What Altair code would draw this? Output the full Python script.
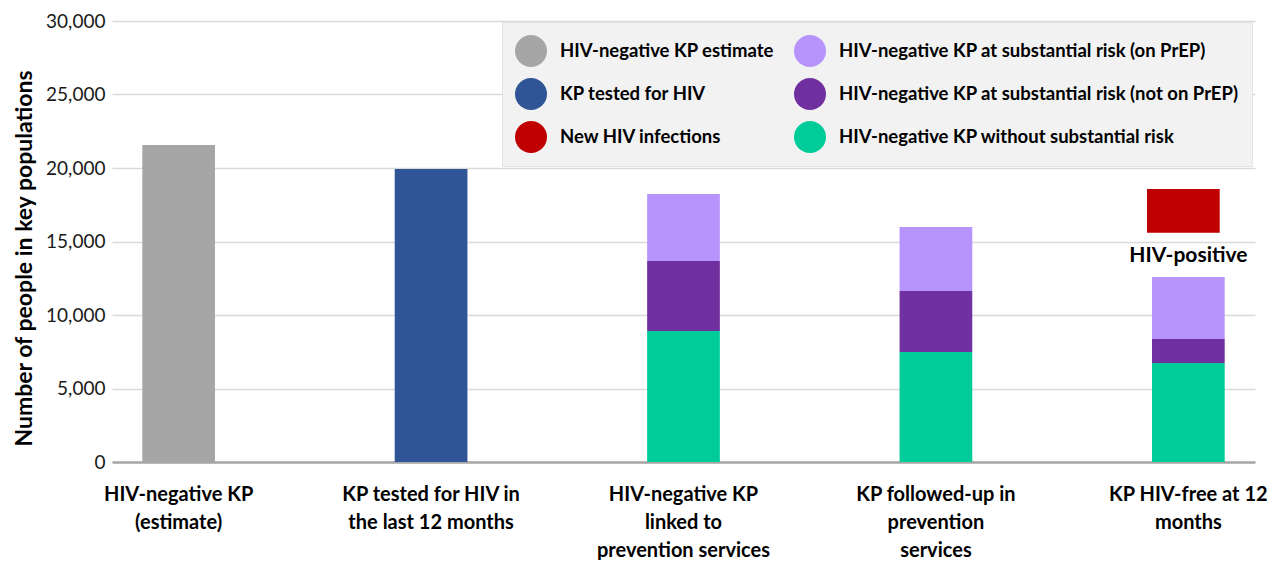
import altair as alt
import pandas as pd

categories = [
    "HIV-negative KP|(estimate)",
    "KP tested for HIV in|the last 12 months",
    "HIV-negative KP|linked to|prevention services",
    "KP followed-up in|prevention|services",
    "KP HIV-free at 12|months",
]

# legend fills column by column
series = [
    "HIV-negative KP estimate",
    "KP tested for HIV",
    "New HIV infections",
    "HIV-negative KP at substantial risk (on PrEP)",
    "HIV-negative KP at substantial risk (not on PrEP)",
    "HIV-negative KP without substantial risk",
]
colors = ["#a6a6a6", "#2f5597", "#c00000", "#b794fc", "#7030a0", "#00cc99"]

hiv_neg_estimate = 21560
kp_tested = 19930
# stacked cascade bars (categories 3-5)
without_risk = [8910, 7480, 6730]
risk_not_prep = [4760, 4150, 1640]
risk_on_prep = [4560, 4360, 4220]
# floating new infections bar on last category
new_inf_low = 15600
new_inf_high = 18570
hiv_positive_label_y = 14000

rows = [
    dict(cat=categories[0], series=series[0], y=0, y2=hiv_neg_estimate),
    dict(cat=categories[1], series=series[1], y=0, y2=kp_tested),
]
for i in range(3):
    c = categories[2 + i]
    a = without_risk[i]
    b = a + risk_not_prep[i]
    t = b + risk_on_prep[i]
    rows.append(dict(cat=c, series=series[5], y=0, y2=a))
    rows.append(dict(cat=c, series=series[4], y=a, y2=b))
    rows.append(dict(cat=c, series=series[3], y=b, y2=t))
df = pd.DataFrame(rows)
red_df = pd.DataFrame([dict(cat=categories[4], series=series[2], y=new_inf_low, y2=new_inf_high)])
txt_df = pd.DataFrame([dict(cat=categories[4], y=hiv_positive_label_y, label="HIV-positive")])

FONT = "Lato"

xscale = alt.Scale(domain=categories, paddingInner=0.712, paddingOuter=0.12)
yscale = alt.Scale(domain=[0, 30000], nice=False)
cscale = alt.Scale(domain=series, range=colors)

xaxis = alt.Axis(
    title=None, labelAngle=0, ticks=False, grid=False,
    domainColor="#a6a6a6", domainWidth=2.5,
    labelFont=FONT, labelFontSize=20, labelFontWeight="bold", labelColor="#000000",
    labelLineHeight=28, labelPadding=22, labelLimit=400, labelOverlap=False,
    labelExpr="split(datum.label, '|')",
)
yaxis = alt.Axis(
    title="Number of people in key populations", values=[0, 5000, 10000, 15000, 20000, 25000, 30000],
    format=",.0f", ticks=False, domain=False, gridColor="#d9d9d9", gridWidth=1.5,
    labelFont=FONT, labelFontSize=19, labelColor="#1a1a1a", labelPadding=7,
    titleFont=FONT, titleFontSize=23, titleFontWeight="bold", titleColor="#000000",
    titleAngle=270, titleX=-88, titleY=237, titleAlign="center", titleBaseline="middle",
)

legend = alt.Legend(
    title=None, orient="none", legendX=390, legendY=1, columns=2,
    symbolType="circle", symbolSize=1024, symbolStrokeWidth=0, symbolOpacity=1,
    labelFont=FONT, labelFontSize=18.5, labelFontWeight="bold", labelColor="#000000",
    labelLimit=600, labelOffset=13, fillColor="#f2f2f2", strokeColor="#e3e3e3",
    padding=13, rowPadding=11, columnPadding=20,
)

bars = alt.Chart(df).mark_bar().encode(
    x=alt.X("cat:N", scale=xscale, axis=xaxis, sort=categories),
    y=alt.Y("y:Q", scale=yscale, axis=yaxis),
    y2="y2:Q",
    color=alt.Color("series:N", scale=cscale, legend=legend),
)

red = alt.Chart(red_df).mark_bar(xOffset=-5).encode(
    x=alt.X("cat:N", scale=xscale, sort=categories),
    y=alt.Y("y:Q", scale=yscale),
    y2="y2:Q",
    color=alt.Color("series:N", scale=cscale, legend=legend),
)

text = alt.Chart(txt_df).mark_text(
    font=FONT, fontSize=21, fontWeight="bold", color="#000000", baseline="middle"
).encode(
    x=alt.X("cat:N", scale=xscale, sort=categories),
    y=alt.Y("y:Q", scale=yscale),
    text="label:N",
)

chart = alt.layer(bars, red, text).properties(
    width=1143, height=441,
    padding={"left": 104, "top": 13, "right": 16, "bottom": 98},
    autosize=alt.AutoSizeParams(type="none"),
).configure_view(stroke=None)

chart.save("out.html", embed_options={"renderer": "svg", "actions": False})
